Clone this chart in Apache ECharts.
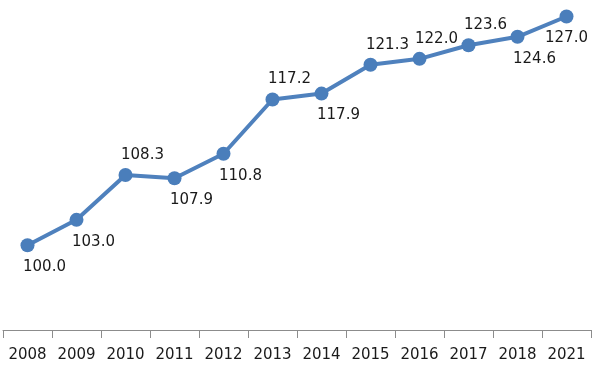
<!DOCTYPE html>
<html>
<head>
<meta charset="utf-8">
<script src="https://cdn.jsdelivr.net/npm/echarts@6/dist/echarts.min.js"></script>
<style>
  html, body { margin: 0; padding: 0; background: #fff; }
  #chart { width: 595px; height: 369px; }
</style>
</head>
<body>
<div id="chart"></div>
<script>
const years = ['2008', '2009', '2010', '2011', '2012', '2013', '2014', '2015', '2016', '2017', '2018', '2021'];
const values = [100.0, 103.0, 108.3, 107.9, 110.8, 117.2, 117.9, 121.3, 122.0, 123.6, 124.6, 127.0];

// years whose value label sits above the point (the rest sit below)
const labelsAbove = new Set(['2010', '2013', '2015', '2016', '2017']);

const chart = echarts.init(document.getElementById('chart'));
chart.setOption({
  animation: false,
  grid: { left: 3, right: 4, top: 8, bottom: 39 },
  xAxis: {
    type: 'category',
    data: years,
    axisLine: { show: true, lineStyle: { color: '#8c8c8c', width: 1 } },
    axisTick: { show: true, interval: 0, length: 8, lineStyle: { color: '#8c8c8c', width: 1 } },
    axisLabel: {
      interval: 0,
      hideOverlap: false,
      margin: 18,
      fontFamily: 'DejaVu Sans',
      fontSize: 15,
      color: '#1a1a1a'
    }
  },
  yAxis: {
    type: 'value',
    min: 90,
    max: 128,
    show: false,
    splitLine: { show: false }
  },
  series: [{
    type: 'line',
    data: values.map((value, index) => {
      const above = labelsAbove.has(years[index]);
      const last = index === values.length - 1;
      return {
        value,
        label: { offset: [last ? 0 : 17, above ? -20 : 22] }
      };
    }),
    symbol: 'circle',
    symbolSize: 14,
    itemStyle: { color: '#4a7ebb' },
    lineStyle: { color: '#4f81bd', width: 4 },
    label: {
      show: true,
      position: 'inside',
      formatter: (params) => params.value.toFixed(1),
      fontFamily: 'DejaVu Sans',
      fontSize: 15,
      color: '#1a1a1a'
    }
  }]
});
</script>
</body>
</html>
